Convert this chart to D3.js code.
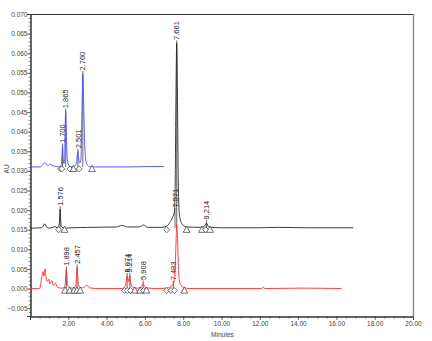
<!DOCTYPE html>
<html><head><meta charset="utf-8">
<script src="https://cdn.jsdelivr.net/npm/d3@7"></script>
<style>html,body{margin:0;padding:0;background:#fff;}svg{display:block;font-family:"Liberation Sans",Arial,sans-serif;}</style>
</head><body><svg id="c" width="432" height="341"></svg>
<script>
// ---- data ----
const xTicks = [2, 4, 6, 8, 10, 12, 14, 16, 18, 20];
const yTicks = [-0.005, 0.000, 0.005, 0.010, 0.015, 0.020, 0.025, 0.030, 0.035, 0.040, 0.045, 0.050, 0.055, 0.060, 0.065, 0.070];
const xLabel = "Minutes";
const yLabel = "AU";

const blueTrace = [[0.00,0.0310],[0.55,0.0310],[0.68,0.0316],[0.78,0.0321],[0.88,0.0315],[0.97,0.0314],[1.05,0.0318],[1.13,0.0314],[1.30,0.0312],[1.50,0.0310],[1.62,0.0313],[1.67,0.0340],[1.70,0.0362],[1.73,0.0335],[1.77,0.0318],[1.81,0.0330],[1.84,0.0420],[1.865,0.0451],[1.89,0.0415],[1.93,0.0345],[1.98,0.0320],[2.05,0.0312],[2.20,0.0310],[2.40,0.0316],[2.46,0.0335],[2.501,0.0349],[2.54,0.0332],[2.60,0.0320],[2.66,0.0330],[2.72,0.0470],[2.76,0.0547],[2.80,0.0480],[2.85,0.0375],[2.91,0.0330],[2.98,0.0316],[3.10,0.0311],[3.40,0.0310],[5.00,0.0310],[6.20,0.0311],[7.00,0.0311]];
const blackTrace = [[0.00,0.0154],[0.60,0.0155],[0.72,0.0162],[0.78,0.0165],[0.86,0.0157],[1.00,0.0154],[1.20,0.0156],[1.30,0.0158],[1.42,0.0155],[1.53,0.0165],[1.576,0.0202],[1.61,0.0168],[1.66,0.0157],[1.78,0.0154],[2.20,0.0155],[3.00,0.0156],[4.50,0.0157],[4.79,0.0161],[5.10,0.0157],[5.70,0.0157],[5.92,0.0162],[6.15,0.0156],[6.90,0.0156],[7.14,0.0159],[7.30,0.0168],[7.45,0.0182],[7.54,0.0196],[7.58,0.0260],[7.62,0.0480],[7.661,0.0625],[7.70,0.0490],[7.74,0.0280],[7.80,0.0190],[7.90,0.0168],[8.02,0.0161],[8.20,0.0157],[8.90,0.0156],[9.10,0.0158],[9.214,0.0167],[9.33,0.0157],[10.0,0.0155],[12.0,0.0155],[13.0,0.0156],[14.5,0.0155],[16.88,0.0155]];
const redTrace = [[0.00,0.0000],[0.50,0.0000],[0.62,0.0030],[0.68,0.0043],[0.73,0.0032],[0.78,0.0050],[0.84,0.0028],[0.92,0.0018],[0.98,0.0024],[1.05,0.0012],[1.14,0.0020],[1.22,0.0008],[1.32,0.0014],[1.42,0.0004],[1.60,0.0001],[1.78,0.0002],[1.84,0.0012],[1.87,0.0035],[1.898,0.0049],[1.93,0.0030],[1.97,0.0008],[2.10,0.0001],[2.34,0.0003],[2.40,0.0010],[2.43,0.0038],[2.457,0.0054],[2.49,0.0035],[2.53,0.0010],[2.62,0.0003],[2.75,0.0002],[2.90,0.0006],[2.97,0.0009],[3.10,0.0002],[3.50,0.0000],[4.80,0.0000],[4.97,0.0006],[5.03,0.0020],[5.074,0.0032],[5.14,0.0018],[5.18,0.0026],[5.214,0.0032],[5.27,0.0012],[5.35,0.0004],[5.50,0.0001],[5.80,0.0002],[5.86,0.0009],[5.908,0.0013],[5.96,0.0008],[6.05,0.0002],[6.60,0.0000],[7.10,0.0001],[7.35,0.0005],[7.483,0.0012],[7.55,0.0025],[7.60,0.0080],[7.63,0.0125],[7.66,0.0163],[7.70,0.0135],[7.75,0.0055],[7.82,0.0015],[8.00,0.0003],[8.30,0.0000],[12.10,0.0000],[12.18,0.0004],[12.25,0.0000],[14.20,0.0001],[16.27,0.0000]];

const baselines = [0.0310, 0.0155, 0.0000];
// peak labels: [retention time, apex value, label]
const bluePeaks = [[1.700,0.0362,"1.700"],[1.865,0.0451,"1.865"],[2.501,0.0349,"2.501"],[2.760,0.0547,"2.760"]];
const blackPeaks = [[1.576,0.0202,"1.576"],[7.571,0.0198,"7.571"],[7.661,0.0625,"7.661"],[9.214,0.0167,"9.214"]];
const redPeaks = [[1.898,0.0049,"1.898"],[2.457,0.0054,"2.457"],[5.074,0.0032,"5.074"],[5.214,0.0032,"5.214"],[5.908,0.0013,"5.908"],[7.483,0.0012,"7.483"]];
// integration marks: [time, kind] d = start (diamond), t = end (triangle)
const blueMarks = [[1.60,"d"],[1.66,"d"],[2.09,"d"],[2.27,"t"],[2.57,"d"],[3.24,"t"]];
const blackMarks = [[1.49,"d"],[1.80,"t"],[7.14,"d"],[8.18,"t"],[8.98,"t"],[9.18,"d"],[9.40,"t"]];
const redMarks = [[1.83,"t"],[2.07,"t"],[2.30,"t"],[2.45,"t"],[2.62,"t"],[4.93,"d"],[5.08,"d"],[5.25,"d"],[5.47,"t"],[5.75,"t"],[5.92,"d"],[6.08,"t"],[7.14,"d"],[7.36,"d"],[7.54,"d"],[8.06,"t"]];

const colors = ["#4b4bf5", "#262626", "#ff2a2a"];

// ---- drawing ----
const svg = d3.select("#c");
const L = 30, R = 413, T = 14, B = 316;
const x = d3.scaleLinear().domain([0, 20]).range([L, R]);
const y = d3.scaleLinear().domain([-0.007, 0.070]).range([B, T]);

// frame
svg.append("line").attr("x1", L).attr("x2", R).attr("y1", T + 0.5).attr("y2", T + 0.5).attr("stroke", "#333").attr("stroke-width", 1);
svg.append("line").attr("x1", R + 0.5).attr("x2", R + 0.5).attr("y1", T).attr("y2", B).attr("stroke", "#8a8a8a").attr("stroke-width", 1.4);

// y axis
const yMinor = d3.range(-7, 71).map(d => d / 1000);
const yAx = svg.append("g").attr("transform", `translate(${L + 0.5},0)`);
yAx.call(d3.axisLeft(y).tickValues(yMinor).tickSize(1.8).tickFormat(""));
yAx.append("g").call(d3.axisLeft(y).tickValues(yTicks).tickSize(3.5).tickFormat(d3.format(".3f")));
yAx.selectAll("path.domain").attr("stroke", "#333");
yAx.selectAll("line").attr("stroke", "#444").attr("stroke-width", 0.7);
yAx.selectAll("text").attr("font-size", 6.5).attr("fill", "#444").attr("font-family", "Liberation Sans, Arial").attr("x", -3);

// x axis
const xMinor = d3.range(0, 41).map(d => d / 2);
const xAx = svg.append("g").attr("transform", `translate(0,${B + 0.5})`);
xAx.call(d3.axisBottom(x).tickValues(xMinor).tickSize(2).tickFormat(""));
xAx.append("g").call(d3.axisBottom(x).tickValues(xTicks).tickSize(3.5).tickFormat(d3.format(".2f")));
xAx.selectAll("path.domain").attr("stroke", "#333");
xAx.selectAll("line").attr("stroke", "#444").attr("stroke-width", 0.7);
xAx.selectAll("text").attr("font-size", 6.5).attr("fill", "#444").attr("font-family", "Liberation Sans, Arial").attr("y", 5);

svg.append("text").attr("x", x(10) + 1).attr("y", 337).attr("text-anchor", "middle").attr("font-size", 6.5).attr("fill", "#444").text(xLabel);
svg.append("text").attr("transform", `translate(9,${y(0.0305)}) rotate(-90)`).attr("text-anchor", "middle").attr("font-size", 6.5).attr("fill", "#444").text(yLabel);

const line = d3.line().x(d => x(d[0])).y(d => y(d[1])).curve(d3.curveMonotoneX);
const traces = [blueTrace, blackTrace, redTrace];
const peaks = [bluePeaks, blackPeaks, redPeaks];
const marks = [blueMarks, blackMarks, redMarks];

// label lines and labels
peaks.forEach((pk, i) => {
  const g = svg.append("g");
  pk.forEach(p => {
    const px = x(p[0]);
    const top = y(p[1]) - 3;
    g.append("line").attr("x1", px).attr("x2", px).attr("y1", y(baselines[i])).attr("y2", top).attr("stroke", "#000").attr("stroke-width", 0.6);
    g.append("text").attr("transform", `translate(${px},${top - 0.5}) rotate(-90)`).attr("dy", "0.35em").attr("font-size", 7.5).attr("fill", "#222").text(p[2]);
  });
});

// traces
traces.forEach((tr, i) => {
  svg.append("path").datum(tr).attr("d", line).attr("fill", "none").attr("stroke", colors[i]).attr("stroke-width", 0.9);
});

// integration markers
const tri = "M0,-3.6L3.4,2.6L-3.4,2.6Z";
const dia = "M0,-3L3,0L0,3L-3,0Z";
marks.forEach((mk, i) => {
  const by = y(baselines[i]) + 2;
  svg.append("g").selectAll("path").data(mk).join("path")
    .attr("transform", d => `translate(${x(d[0])},${by})`)
    .attr("d", d => d[1] === "t" ? tri : dia)
    .attr("fill", "white").attr("stroke", "#333").attr("stroke-width", 0.7);
});
</script></body></html>
